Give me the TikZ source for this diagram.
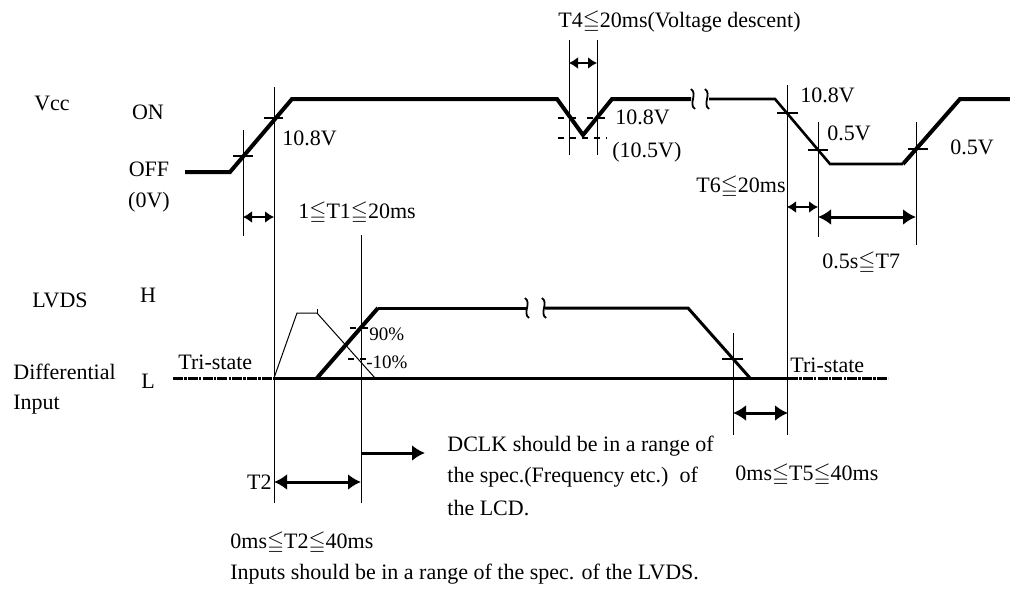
\documentclass[tikz,border=0pt]{standalone}
\usepackage{amssymb}
\usepackage{fontspec}
\setmainfont{Liberation Serif}
\usetikzlibrary{arrows.meta}
\newcommand{\tleq}{\ensuremath{\leqq}}
\begin{document}
\begin{tikzpicture}[x=0.5pt,y=-0.5pt,
	wave/.style={line width=2pt,line join=miter},
	guide/.style={line width=0.5pt},
	tick/.style={line width=0.6pt},
	tri/.style={line width=1.5pt,dash pattern=on 5pt off 0.6pt on 1.2pt off 0.6pt},
	dim/.style={line width=1pt,{Latex[length=4.5pt,width=6pt]}-{Latex[length=4.5pt,width=6pt]}},
	bigdim/.style={line width=1.5pt,{Latex[length=6.5pt,width=8pt]}-{Latex[length=6.5pt,width=8pt]}},
	lbl/.style={inner sep=0pt,font=\fontsize{11}{13}\selectfont}]
	\useasboundingbox (0,0) rectangle (1010,594);

	\coordinate (v0) at (185,172);
	\coordinate (v1) at (230,172);
	\coordinate (v2) at (292,99);
	\coordinate (v3) at (557,99);
	\coordinate (v4) at (583,135);
	\coordinate (v5) at (612,99);
	\coordinate (v6) at (691,99);
	\coordinate (v7) at (709,99);
	\coordinate (v8) at (775,99);
	\coordinate (v9) at (830,164);
	\coordinate (v10) at (903,164);
	\coordinate (v11) at (960,99);
	\coordinate (v12) at (1010,99);
	\draw[wave] (v0) -- (v1) -- (v2) -- (v3) -- (v4) -- (v5) -- (v6);
	\draw[line width=1.3pt,line join=miter] (v7) -- (v8) -- (v9) -- (v10);
	\draw[wave] (v10) -- (v11) -- (v12);

	\coordinate (l0) at (173,378);
	\coordinate (l1) at (274,378);
	\coordinate (l2) at (788,378);
	\coordinate (l3) at (888,378);
	\coordinate (h0) at (317,378);
	\coordinate (h1) at (378,308);
	\coordinate (h2) at (526,308);
	\coordinate (h3) at (545,308);
	\coordinate (h4) at (688,308);
	\coordinate (h5) at (750,378);
	\coordinate (s1) at (297,313);
	\coordinate (s2) at (317,313);
	\coordinate (s3) at (375,378);
	\draw[tri] (l0) -- (l1);
	\draw[line width=1.5pt] (l1) -- (l2);
	\draw[tri] (l2) -- (l3);
	\draw[line width=2pt] (h0) -- (h1);
	\draw[line width=1.5pt,line join=miter] (h1) -- (h2);
	\draw[line width=1.5pt,line join=miter] (h3) -- (h4) -- (h5);
	\draw[guide] (l1) -- (s1) -- (s2) -- (s3);
	\draw[guide] (s2) -- ++(0,-4);

	\foreach \bx/\by in {693/99,707/99,527/308,544/308}
		\draw[line width=0.9pt] (\bx-2,\by-10) .. controls (\bx+5,\by-5) and (\bx-5,\by+5) .. (\bx+2,\by+10);

	\draw[guide] (243,130) -- (243,236);
	\draw[guide] (274,87) -- (274,503);
	\draw[guide] (361,235) -- (361,503);
	\draw[guide] (569,40) -- (569,155);
	\draw[guide] (597,40) -- (597,155);
	\draw[guide] (787,85) -- (787,435);
	\draw[guide] (818,122) -- (818,237);
	\draw[guide] (916,122) -- (916,245);
	\draw[guide] (733,333) -- (733,435);

	\draw[tick] (233,156) -- (253,156);
	\draw[tick] (264,118) -- (283,118);
	\draw[tick,dashed] (558,118) -- (582,118);
	\draw[tick,dashed] (587,118) -- (607,118);
	\draw[tick,dashed] (558,138) -- (607,138);
	\draw[tick] (777,113) -- (798,113);
	\draw[tick] (808,150) -- (828,150);
	\draw[tick] (908,149) -- (928,149);
	\draw[tick] (722,359) -- (743,359);
	\draw[tick,dashed] (350,328) -- (368,328);
	\draw[tick,dashed] (348,359) -- (366,359);

	\coordinate (t1a) at (243,217);
	\coordinate (t1b) at (274,217);
	\coordinate (t4a) at (569,63);
	\coordinate (t4b) at (597,63);
	\coordinate (t6a) at (787,207);
	\coordinate (t6b) at (818,207);
	\coordinate (t7a) at (818,217);
	\coordinate (t7b) at (916,217);
	\coordinate (t5a) at (733,413);
	\coordinate (t5b) at (788,413);
	\coordinate (t2a) at (274,482);
	\coordinate (t2b) at (361,482);
	\coordinate (ca) at (361,453);
	\coordinate (cb) at (425,453);
	\draw[dim] (t1a) -- (t1b);
	\draw[dim] (t4a) -- (t4b);
	\draw[dim] (t6a) -- (t6b);
	\draw[bigdim] (t7a) -- (t7b);
	\draw[bigdim] (t5a) -- (t5b);
	\draw[bigdim] (t2a) -- (t2b);
	\draw[line width=1.5pt,-{Latex[length=6.5pt,width=8pt]}] (ca) -- (cb);

	\node[lbl] (vcc) at (52,103) {Vcc};
	\node[lbl] (on) at (148,112) {ON};
	\node[lbl] (off) at (149,169) {OFF};
	\node[lbl] (zero) at (149,202) {(0V)};
	\node[lbl,anchor=west] (va) at (282,138) {10.8V};
	\node[lbl,anchor=west] (t1) at (298,213) {1\tleq T1\tleq 20ms};
	\node[lbl,anchor=west] (t4) at (558,22) {T4\tleq 20ms(Voltage descent)};
	\node[lbl,anchor=west] (vb) at (615,117) {10.8V};
	\node[lbl,anchor=west] (vc) at (612,152) {(10.5V)};
	\node[lbl,anchor=west] (vd) at (800,95) {10.8V};
	\node[lbl,anchor=west] (ve) at (827,133) {0.5V};
	\node[lbl,anchor=west] (vf) at (950,147) {0.5V};
	\node[lbl,anchor=east] (t6) at (786,187) {T6\tleq 20ms};
	\node[lbl,anchor=west] (t7) at (822,263) {0.5s\tleq T7};

	\node[lbl] (lvds) at (60,300) {LVDS};
	\node[lbl] (hi) at (148,295) {H};
	\node[lbl,anchor=west] (diff) at (13,372) {Differential};
	\node[lbl,anchor=west] (inp) at (13,405) {Input};
	\node[lbl] (lo) at (148,381) {L};
	\node[lbl,anchor=west] (tsl) at (178,362) {Tri-state};
	\node[lbl,anchor=west] (tsr) at (790,365) {Tri-state};
	\node[lbl,anchor=west,font=\fontsize{9.5}{11}\selectfont] (p90) at (369,334) {90\%};
	\node[lbl,anchor=west,font=\fontsize{9.5}{11}\selectfont] (p10) at (366,362) {-10\%};

	\node[lbl,anchor=east] (t2) at (272,482) {T2};
	\node[lbl,anchor=west] (dc1) at (447,446) {DCLK should be in a range of};
	\node[lbl,anchor=west] (dc2) at (447,477) {the spec.(Frequency etc.)~~of};
	\node[lbl,anchor=west] (dc3) at (447,508) {the LCD.};
	\node[lbl,anchor=west] (t5) at (735,475) {0ms\tleq T5\tleq 40ms};
	\node[lbl,anchor=west] (t2r) at (230,543) {0ms\tleq T2\tleq 40ms};
	\node[lbl,anchor=west] (inps) at (230,574) {Inputs should be in a range of the spec. of the LVDS.};
\end{tikzpicture}
\end{document}
